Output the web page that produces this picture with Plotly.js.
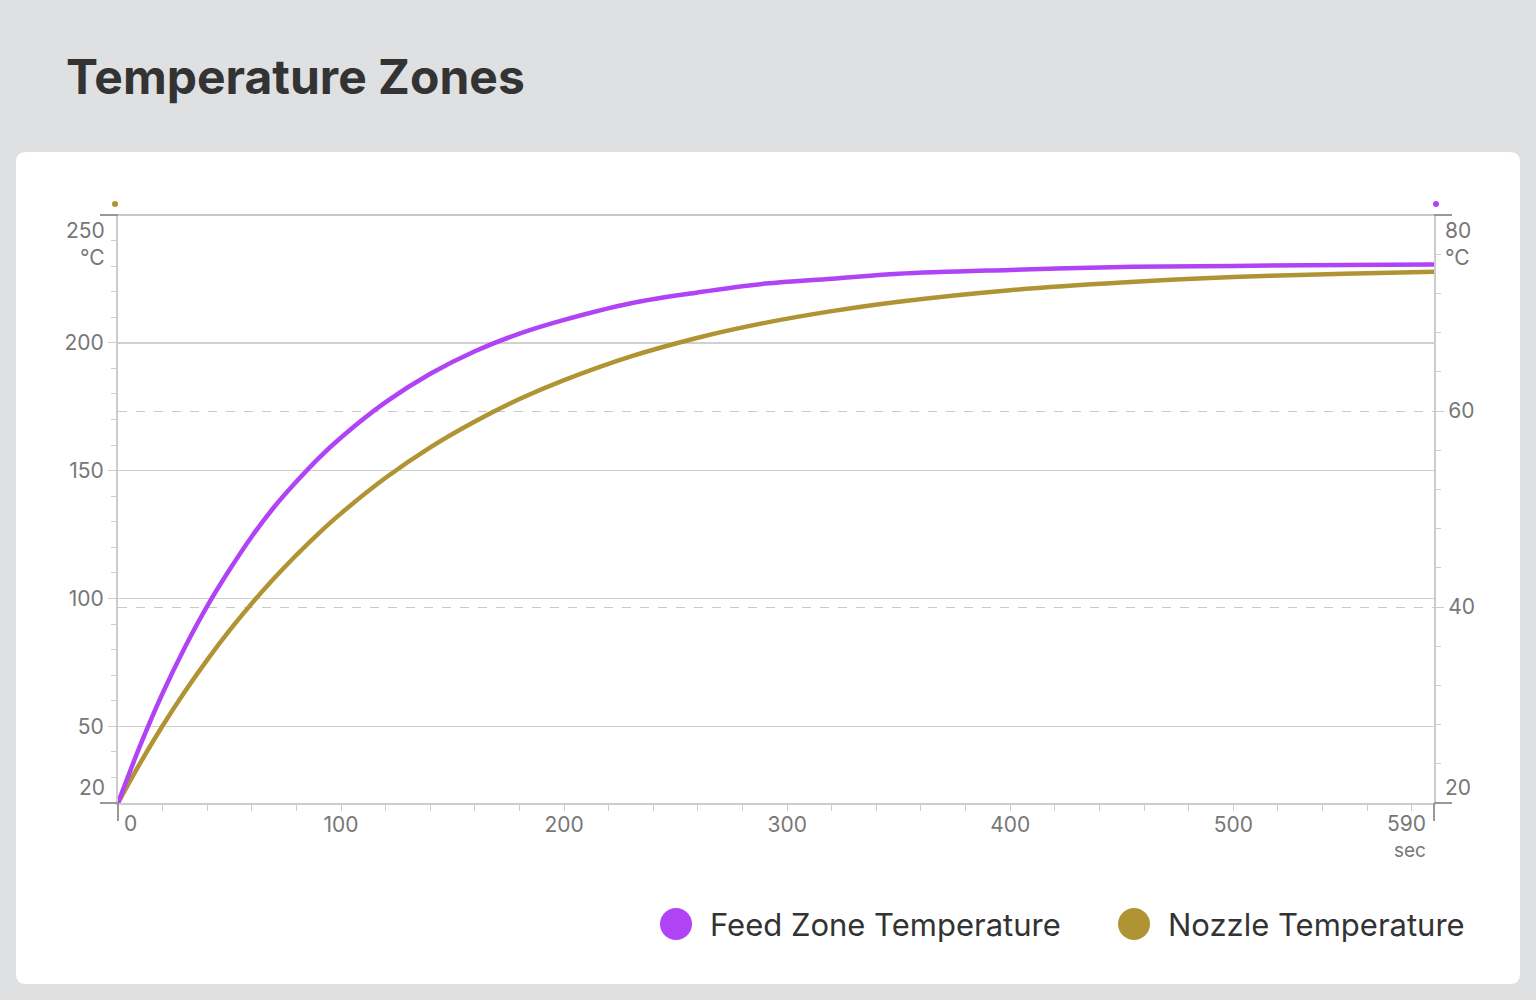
<!DOCTYPE html>
<html>
<head>
<meta charset="utf-8">
<script src="https://cdn.plot.ly/plotly-3.0.1.min.js"></script>
<style>
  html, body { margin: 0; padding: 0; background: #dfe0e2; }
  #chart { width: 1536px; height: 1000px; }
</style>
</head>
<body>
<div id="chart"></div>
<script>
// time in seconds
var timeSec = [0, 10, 20, 30, 40, 50, 60, 70, 80, 90, 100, 120, 140, 160, 180, 200,
  230, 260, 290, 320, 350, 400, 450, 500, 550, 590];
// nozzle temperature, left axis (°C)
var nozzleTemp = [20, 35.7, 50.2, 63.6, 76.0, 87.5, 98.1, 107.9, 117.0, 125.5, 133.3,
  147.2, 159.1, 169.2, 178.0, 185.4, 194.7, 202.0, 207.8, 212.4, 216.1, 220.6,
  223.6, 225.7, 227.0, 227.8];
// feed zone temperature, right axis (°C)
var feedTemp = [20, 25.9, 31.2, 35.9, 40.1, 43.8, 47.2, 50.2, 52.8, 55.2, 57.3,
  60.9, 63.8, 66.1, 67.9, 69.3, 71.0, 72.1, 73.0, 73.5, 74.0, 74.4, 74.7, 74.8,
  74.9, 74.95];

var leftTicks = [50, 100, 150, 200];
var rightTicks = [40, 60];
var xTicks = [100, 200, 300, 400, 500];

var PURPLE = '#b043f5';
var OLIVE = '#b09433';
var TICKFONT = {family: 'Inter, Roboto, sans-serif', size: 21, color: '#777'};

var X0 = 118 / 1536, X1 = 1434 / 1536;
var Y0 = 1 - 803 / 1000, Y1 = 1 - 215 / 1000;

var traces = [
  {x: timeSec, y: feedTemp, yaxis: 'y2', type: 'scatter', mode: 'lines',
    name: 'Feed Zone Temperature', line: {color: PURPLE, width: 4.5, shape: 'spline'}},
  {x: timeSec, y: nozzleTemp, yaxis: 'y', type: 'scatter', mode: 'lines',
    name: 'Nozzle Temperature', line: {color: OLIVE, width: 4.5, shape: 'spline'}}
];

function ann(text, x, y, xanchor, size) {
  return {text: text, x: x, y: y, xref: 'paper', yref: 'paper', showarrow: false,
    xanchor: xanchor, yanchor: 'middle', font: {family: TICKFONT.family, size: size || 21, color: '#777'}};
}
function px(x) { return x / 1536; }
function py(y) { return 1 - y / 1000; }

var layout = {
  width: 1536, height: 1000,
  margin: {l: 0, r: 0, t: 0, b: 0},
  paper_bgcolor: '#dfe0e2',
  plot_bgcolor: 'rgba(0,0,0,0)',
  showlegend: false,
  xaxis: {
    domain: [X0, X1], range: [0, 590], tickvals: xTicks, ticktext: xTicks.map(String),
    ticks: 'outside', ticklen: 6, tickcolor: '#ccc', showgrid: false,
    showline: true, linecolor: '#ccc', linewidth: 2, zeroline: false,
    tickfont: TICKFONT, ticklabelstandoff: -4,
    minor: {dtick: 20, tick0: 0, ticks: 'outside', ticklen: 6, tickcolor: '#ccc', showgrid: false}
  },
  yaxis: {
    domain: [Y0, Y1], range: [20, 250], tickvals: leftTicks, ticktext: leftTicks.map(String),
    ticks: 'outside', ticklen: 8, tickcolor: '#ccc', showgrid: true, gridcolor: '#d0d0d0', gridwidth: 1.5,
    showline: true, linecolor: '#ccc', linewidth: 2, zeroline: false,
    tickfont: TICKFONT,
    minor: {dtick: 10, tick0: 20, ticks: 'outside', ticklen: 5, tickcolor: '#ccc', showgrid: false}
  },
  yaxis2: {
    overlaying: 'y', side: 'right', anchor: 'x', range: [20, 80],
    tickvals: rightTicks, ticktext: rightTicks.map(String),
    ticks: 'outside', ticklen: 8, tickcolor: '#ccc', showgrid: true, gridcolor: '#c8c8c8',
    griddash: 'dash', gridwidth: 1,
    showline: true, linecolor: '#ccc', linewidth: 2, zeroline: false,
    tickfont: TICKFONT,
    minor: {dtick: 4, tick0: 20, ticks: 'outside', ticklen: 5, tickcolor: '#ccc', showgrid: false}
  },
  shapes: [
    {type: 'path', xref: 'paper', yref: 'paper', layer: 'below',
      path: 'M ' + px(26) + ',' + py(152) + ' L ' + px(1510) + ',' + py(152) +
        ' Q ' + px(1520) + ',' + py(152) + ' ' + px(1520) + ',' + py(162) +
        ' L ' + px(1520) + ',' + py(974) + ' Q ' + px(1520) + ',' + py(984) + ' ' + px(1510) + ',' + py(984) +
        ' L ' + px(26) + ',' + py(984) + ' Q ' + px(16) + ',' + py(984) + ' ' + px(16) + ',' + py(974) +
        ' L ' + px(16) + ',' + py(162) + ' Q ' + px(16) + ',' + py(152) + ' ' + px(26) + ',' + py(152) + ' Z',
      fillcolor: '#ffffff', line: {width: 0}},
    // top line and end ticks
    {type: 'line', xref: 'paper', yref: 'paper', x0: px(100), x1: px(1452), y0: py(215), y1: py(215),
      line: {color: '#c8c8c8', width: 2}},
    {type: 'line', xref: 'paper', yref: 'paper', x0: px(100), x1: px(118), y0: py(803), y1: py(803),
      line: {color: '#999', width: 2}},
    {type: 'line', xref: 'paper', yref: 'paper', x0: px(100), x1: px(118), y0: py(215), y1: py(215),
      line: {color: '#999', width: 2}},
    {type: 'line', xref: 'paper', yref: 'paper', x0: px(1434), x1: px(1452), y0: py(215), y1: py(215),
      line: {color: '#999', width: 2}},
    {type: 'line', xref: 'paper', yref: 'paper', x0: px(1434), x1: px(1452), y0: py(803), y1: py(803),
      line: {color: '#999', width: 2}},
    {type: 'line', xref: 'paper', yref: 'paper', x0: px(118), x1: px(118), y0: py(803), y1: py(821),
      line: {color: '#999', width: 2}},
    {type: 'line', xref: 'paper', yref: 'paper', x0: px(1434), x1: px(1434), y0: py(803), y1: py(821),
      line: {color: '#999', width: 2}},
    // axis dots
    {type: 'circle', xref: 'paper', yref: 'paper', x0: px(112), x1: px(118), y0: py(201), y1: py(207),
      fillcolor: OLIVE, line: {width: 0}},
    {type: 'circle', xref: 'paper', yref: 'paper', x0: px(1433), x1: px(1439), y0: py(201), y1: py(207),
      fillcolor: PURPLE, line: {width: 0}},
    // legend
    {type: 'circle', xref: 'paper', yref: 'paper', x0: px(660), x1: px(692), y0: py(908), y1: py(940),
      fillcolor: PURPLE, line: {width: 0}},
    {type: 'circle', xref: 'paper', yref: 'paper', x0: px(1118), x1: px(1150), y0: py(908), y1: py(940),
      fillcolor: OLIVE, line: {width: 0}}
  ],
  annotations: [
    {text: '<b>Temperature Zones</b>', x: px(64), y: py(77), xref: 'paper', yref: 'paper',
      showarrow: false, xanchor: 'left', yanchor: 'middle',
      font: {family: 'Inter, Roboto, sans-serif', size: 48, color: '#333'}},
    ann('250', px(107), py(231), 'right'),
    ann('°C', px(107), py(257), 'right'),
    ann('20', px(107), py(787), 'right'),
    ann('80', px(1443), py(231), 'left'),
    ann('°C', px(1443), py(257), 'left'),
    ann('20', px(1443), py(787), 'left'),
    ann('0', px(122), py(823), 'left'),
    ann('590', px(1428), py(823), 'right'),
    ann('sec', px(1428), py(850), 'right', 19),
    {text: 'Feed Zone Temperature', x: px(708), y: py(924), xref: 'paper', yref: 'paper',
      showarrow: false, xanchor: 'left', yanchor: 'middle',
      font: {family: 'Inter, Roboto, sans-serif', size: 31, color: '#333'}},
    {text: 'Nozzle Temperature', x: px(1166), y: py(924), xref: 'paper', yref: 'paper',
      showarrow: false, xanchor: 'left', yanchor: 'middle',
      font: {family: 'Inter, Roboto, sans-serif', size: 31, color: '#333'}}
  ]
};

Plotly.newPlot('chart', traces, layout, {displayModeBar: false, staticPlot: true});
</script>
</body>
</html>
